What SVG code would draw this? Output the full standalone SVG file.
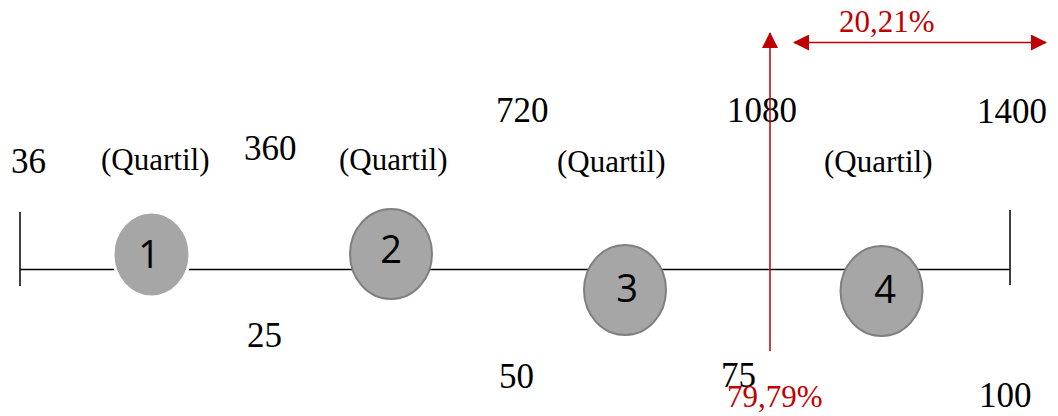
<svg xmlns="http://www.w3.org/2000/svg" width="1058" height="416" viewBox="0 0 1058 416">
  <style>
    .num { font-family: "Liberation Serif", "Times New Roman", serif; font-size: 35px; fill: #000; }
    .lbl { font-family: "Liberation Serif", "Times New Roman", serif; font-size: 31px; fill: #000; }
    .pct { font-family: "Liberation Serif", "Times New Roman", serif; font-size: 31px; fill: #c00000; }
    .axis { stroke: #000; stroke-width: 1.5; fill: none; }
    .q { fill: #a6a6a6; stroke: #7f7f7f; stroke-width: 2; }
    .qtxt { font-family: "Open Sans", "DejaVu Sans", sans-serif; font-size: 38px; fill: #000; text-anchor: middle; }
    .red { stroke: #c00000; stroke-width: 1.5; fill: none; }
  </style>
  <defs>
    <marker id="ah" viewBox="0 0 16 16" refX="15" refY="8" markerWidth="16" markerHeight="16" markerUnits="userSpaceOnUse" orient="auto-start-reverse">
      <path d="M0,0 L16,8 L0,16 Z" fill="#c00000"/>
    </marker>
  </defs>

  <rect width="1058" height="416" fill="#fff"/>

  <!-- axis -->
  <g id="axis">
    <line class="axis" x1="20" y1="269.5" x2="1010" y2="269.5"/>
    <line class="axis" x1="20" y1="212" x2="20" y2="286"/>
    <line class="axis" x1="1010" y1="210" x2="1010" y2="285"/>
  </g>

  <!-- quartile markers -->
  <g id="q1">
    <ellipse cx="151.5" cy="254.5" rx="38.5" ry="42.5" fill="#a6a6a6" stroke="#fff" stroke-width="3"/>
    <text class="qtxt" x="149" y="268">1</text>
  </g>
  <g id="q2">
    <ellipse class="q" cx="391" cy="254" rx="41" ry="45"/>
    <text class="qtxt" x="391" y="263">2</text>
  </g>
  <g id="q3">
    <ellipse class="q" cx="625" cy="290" rx="41" ry="45"/>
    <text class="qtxt" x="627" y="302">3</text>
  </g>
  <g id="q4">
    <ellipse class="q" cx="881.5" cy="291" rx="41" ry="45"/>
    <text class="qtxt" x="885" y="303">4</text>
  </g>

  <!-- scale values -->
  <g id="values">
    <text class="num" x="11" y="173">36</text>
    <text class="num" x="244" y="160">360</text>
    <text class="num" x="496" y="122">720</text>
    <text class="num" x="727" y="122">1080</text>
    <text class="num" x="977" y="123">1400</text>
    <text class="num" x="247" y="347">25</text>
    <text class="num" x="499" y="388">50</text>
    <text class="num" x="721" y="387">75</text>
    <text class="num" x="979" y="407">100</text>
  </g>

  <g id="labels">
    <text class="lbl" x="101" y="170">(Quartil)</text>
    <text class="lbl" x="339" y="170">(Quartil)</text>
    <text class="lbl" x="557" y="172">(Quartil)</text>
    <text class="lbl" x="824" y="172">(Quartil)</text>
  </g>

  <!-- red split markers -->
  <g id="connectors">
    <line class="red" x1="770" y1="351" x2="770" y2="33" marker-end="url(#ah)"/>
    <line class="red" x1="794" y1="42.5" x2="1046" y2="42.5" marker-start="url(#ah)" marker-end="url(#ah)"/>
  </g>
  <g id="percent">
    <text class="pct" x="839" y="32">20,21%</text>
    <text class="pct" x="727" y="407">79,79%</text>
  </g>
</svg>
